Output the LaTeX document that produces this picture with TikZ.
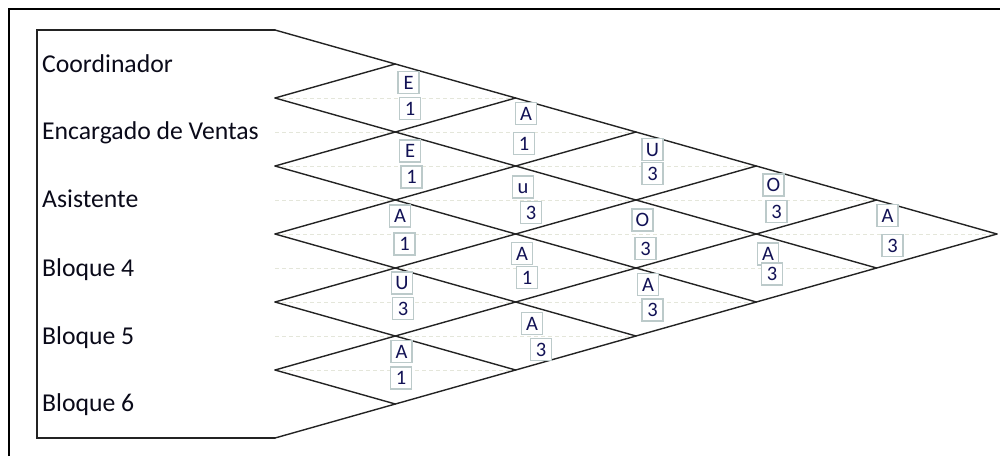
\documentclass[tikz,border=0pt]{standalone}
\usepackage{fontspec}
\setmainfont{Carlito}
\definecolor{linec}{RGB}{35,35,35}
\definecolor{guidec}{RGB}{228,230,218}
\definecolor{boxc}{RGB}{188,202,202}
\definecolor{cellc}{RGB}{18,18,85}
\definecolor{rowc}{RGB}{10,10,25}
\begin{document}
\begin{tikzpicture}[x=1pt,y=-1pt,
  frame/.style={line width=2pt, draw=black},
  gridline/.style={line width=1.4pt, draw=linec, line cap=round, line join=miter},
  guide/.style={line width=0.8pt, draw=guidec, dash pattern=on 4pt off 3pt},
  rowlabel/.style={anchor=base west, inner sep=0pt, font=\fontsize{25.7}{30}\selectfont, text=rowc},
  cellbox/.style={draw=boxc, line width=1.1pt, fill=white, minimum width=21pt, minimum height=22pt,
    inner sep=0pt, text height=13.5pt, text depth=0pt, font=\fontsize{20.5}{22}\selectfont, text=cellc}]
\useasboundingbox (0,0) rectangle (1000,456);
% outer frame
\coordinate (FL) at (8.5,456);
\coordinate (FC) at (8.5,8.5);
\coordinate (FR) at (1000,8.5);
\draw[frame] (FL) -- (FC) -- (FR);
% inner shape corners
\coordinate (IL1) at (37,30);
\coordinate (IL2) at (37,438);
\foreach \j in {0,...,6}{
  \coordinate (P\j) at (275,30+68*\j);
  \coordinate (T\j) at (275+120.33*\j,30+34*\j);
  \coordinate (B\j) at (275+120.33*6-120.33*\j,234+34*\j);
}
% faint guide lines
\begin{scope}
  \clip (P0) -- (T6) -- (P6) -- cycle;
  \foreach \k in {0,...,8}{
    \coordinate (GL\k) at (275,98+34*\k);
    \coordinate (GR\k) at (1000,98+34*\k);
    \draw[guide] (GL\k) -- (GR\k);
  }
\end{scope}
% grid
\draw[gridline] (P0) -- (IL1) -- (IL2) -- (P6);
\foreach \j in {0,...,5}{\draw[gridline] (P\j) -- (B\j);}
\foreach \j in {1,...,6}{\draw[gridline] (P\j) -- (T\j);}
% row labels
\node[rowlabel] (r0) at (42,72) {Coordinador};
\node[rowlabel] (r1) at (42,139.5) {Encargado de Ventas};
\node[rowlabel] (r2) at (42,207) {Asistente};
\node[rowlabel] (r3) at (42,276) {Bloque 4};
\node[rowlabel] (r4) at (42,344) {Bloque 5};
\node[rowlabel] (r5) at (42,411) {Bloque 6};
% cells
\node[cellbox] (c01a) at (408.5,82.5) {E};
\node[cellbox] (c01b) at (410,108.5) {1};
\node[cellbox] (c12a) at (410,151) {E};
\node[cellbox] (c12b) at (411.5,177) {1};
\node[cellbox] (c23a) at (400,216) {A};
\node[cellbox] (c23b) at (404.5,244) {1};
\node[cellbox] (c34a) at (402,283) {U};
\node[cellbox] (c34b) at (403,308.5) {3};
\node[cellbox] (c45a) at (401.5,351.5) {A};
\node[cellbox] (c45b) at (401,378) {1};
\node[cellbox] (c02a) at (526,113.5) {A};
\node[cellbox] (c02b) at (524,143.5) {1};
\node[cellbox] (c13a) at (523,187) {u};
\node[cellbox] (c13b) at (531,212.5) {3};
\node[cellbox] (c24a) at (522,253.5) {A};
\node[cellbox] (c24b) at (527,277.5) {1};
\node[cellbox] (c35a) at (532,323.5) {A};
\node[cellbox] (c35b) at (541,349.5) {3};
\node[cellbox] (c03a) at (652.5,149.5) {U};
\node[cellbox] (c03b) at (652.5,173.5) {3};
\node[cellbox] (c14a) at (642.5,220) {O};
\node[cellbox] (c14b) at (645.5,248.5) {3};
\node[cellbox] (c25a) at (648,284.5) {A};
\node[cellbox] (c25b) at (652.5,310) {3};
\node[cellbox] (c04a) at (773.5,185) {O};
\node[cellbox] (c04b) at (776.5,211.5) {3};
\node[cellbox] (c15a) at (768,254) {A};
\node[cellbox] (c15b) at (772,274) {3};
\node[cellbox] (c05a) at (887.5,215.5) {A};
\node[cellbox] (c05b) at (892.5,245.5) {3};
\end{tikzpicture}
\end{document}
